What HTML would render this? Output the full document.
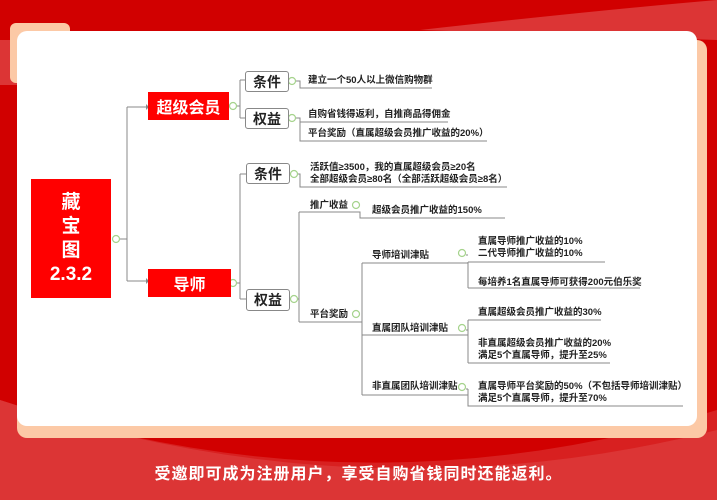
<!DOCTYPE html>
<html><head><meta charset="utf-8"><style>
*{margin:0;padding:0;box-sizing:border-box}
body{width:717px;height:500px;overflow:hidden;background:#d10000;position:relative;font-family:"Liberation Sans","Noto Sans CJK SC",sans-serif}
.a{position:absolute}
.t{position:absolute;font-size:9.5px;font-weight:bold;color:#222;white-space:nowrap;line-height:12px}
.box{position:absolute;border:1.5px solid #888;border-radius:3px;background:#fff;font-size:14px;font-weight:bold;color:#222;display:flex;align-items:center;justify-content:center}
.red{position:absolute;background:#ff0000;color:#fff;font-weight:bold;display:flex;align-items:center;justify-content:center;text-align:center}
</style></head><body>
<svg class="a" style="left:0;top:0" width="717" height="500">
<path d="M0 400 Q360 520 717 430 L717 500 L0 500Z" fill="#dc3535"/>
<path d="M0 400 Q360 520 717 410 L717 500 L0 500Z" fill="#dc3535" opacity="0.6"/>
<path d="M420 30 Q600 10 717 0 L717 40 Z" fill="#dc3535"/>
<rect x="0" y="40" width="20" height="45" fill="#dc3535"/>
</svg>
<div class="a" style="left:10px;top:23px;width:60px;height:60px;background:#fcc9a6;border-radius:6px"></div>
<div class="a" style="left:17px;top:40px;width:690px;height:398px;background:#fcc9a6;border-radius:10px"></div>
<div class="a" style="left:17px;top:31px;width:680px;height:395px;background:#fff;border-radius:10px"></div>
<svg class="a" style="left:0;top:0" width="717" height="500" fill="none" stroke="#888" stroke-width="1">
<path d="M120 239H127M127 107V281M127 107H146M127 281H146"/>
<path d="M236 106H240M240 80V118M240 80H245M240 118H245"/>
<path d="M296 81H300V88H432M296 118H300V122H448M300 122V141H487"/>
<path d="M236 283H240M240 174V299M240 174H246M240 299H246"/>
<path d="M298 174H300V187H507"/>
<path d="M298 299H299M299 212V322M299 212H360V218H505M299 322H362"/>
<path d="M362 263V395M362 263H468M362 335H468M362 395H468"/>
<path d="M466 255H468M468 262V288M468 262H605M468 288H640"/>
<path d="M466 330H468M468 320V363M468 320H601M468 363H610"/>
<path d="M466 389H468M468 389V406H683"/>
<g fill="#888" stroke="none">
<path d="M146 104l3 3-3 3z"/><path d="M146 278l3 3-3 3z"/>
</g>
<g stroke="#a5d38c" stroke-width="1.2" fill="#fff">
<circle cx="116" cy="239" r="3.5"/><circle cx="233" cy="106" r="3.5"/><circle cx="233" cy="283" r="3.5"/>
<circle cx="292" cy="81" r="3.5"/><circle cx="292" cy="118" r="3.5"/><circle cx="294" cy="174" r="3.5"/><circle cx="294" cy="299" r="3.5"/>
<circle cx="356" cy="205" r="3.5"/><circle cx="356" cy="314" r="3.5"/>
<circle cx="462" cy="253" r="3.5"/><circle cx="462" cy="328" r="3.5"/><circle cx="462" cy="387" r="3.5"/>
</g>
</svg>
<div class="red" style="left:31px;top:179px;width:80px;height:119px;font-size:19px;line-height:24px">藏<br>宝<br>图<br>2.3.2</div>
<div class="red" style="left:148px;top:92px;width:81px;height:28px;font-size:16px">超级会员</div>
<div class="red" style="left:148px;top:269px;width:83px;height:28px;font-size:16px">导师</div>
<div class="box" style="left:245px;top:71px;width:44px;height:21px">条件</div>
<div class="box" style="left:245px;top:108px;width:44px;height:21px">权益</div>
<div class="box" style="left:246px;top:163px;width:44px;height:21px">条件</div>
<div class="box" style="left:246px;top:289px;width:44px;height:22px">权益</div>
<div class="t" style="left:308px;top:75px">建立一个50人以上微信购物群</div>
<div class="t" style="left:308px;top:109px">自购省钱得返利，自推商品得佣金</div>
<div class="t" style="left:308px;top:128px">平台奖励（直属超级会员推广收益的20%）</div>
<div class="t" style="left:310px;top:162px">活跃值≥3500，我的直属超级会员≥20名<br>全部超级会员≥80名（全部活跃超级会员≥8名）</div>
<div class="t" style="left:310px;top:200px">推广收益</div>
<div class="t" style="left:372px;top:205px">超级会员推广收益的150%</div>
<div class="t" style="left:310px;top:309px">平台奖励</div>
<div class="t" style="left:372px;top:250px">导师培训津贴</div>
<div class="t" style="left:372px;top:323px">直属团队培训津贴</div>
<div class="t" style="left:372px;top:381px">非直属团队培训津贴</div>
<div class="t" style="left:478px;top:236px">直属导师推广收益的10%<br>二代导师推广收益的10%</div>
<div class="t" style="left:478px;top:277px">每培养1名直属导师可获得200元伯乐奖</div>
<div class="t" style="left:478px;top:307px">直属超级会员推广收益的30%</div>
<div class="t" style="left:478px;top:338px">非直属超级会员推广收益的20%<br>满足5个直属导师，提升至25%</div>
<div class="t" style="left:478px;top:381px">直属导师平台奖励的50%（不包括导师培训津贴）<br>满足5个直属导师，提升至70%</div>
<div class="a" style="left:0;top:460px;width:717px;text-align:center;color:#fff;font-size:16px;font-weight:bold;letter-spacing:1px">受邀即可成为注册用户，享受自购省钱同时还能返利。</div>
</body></html>
